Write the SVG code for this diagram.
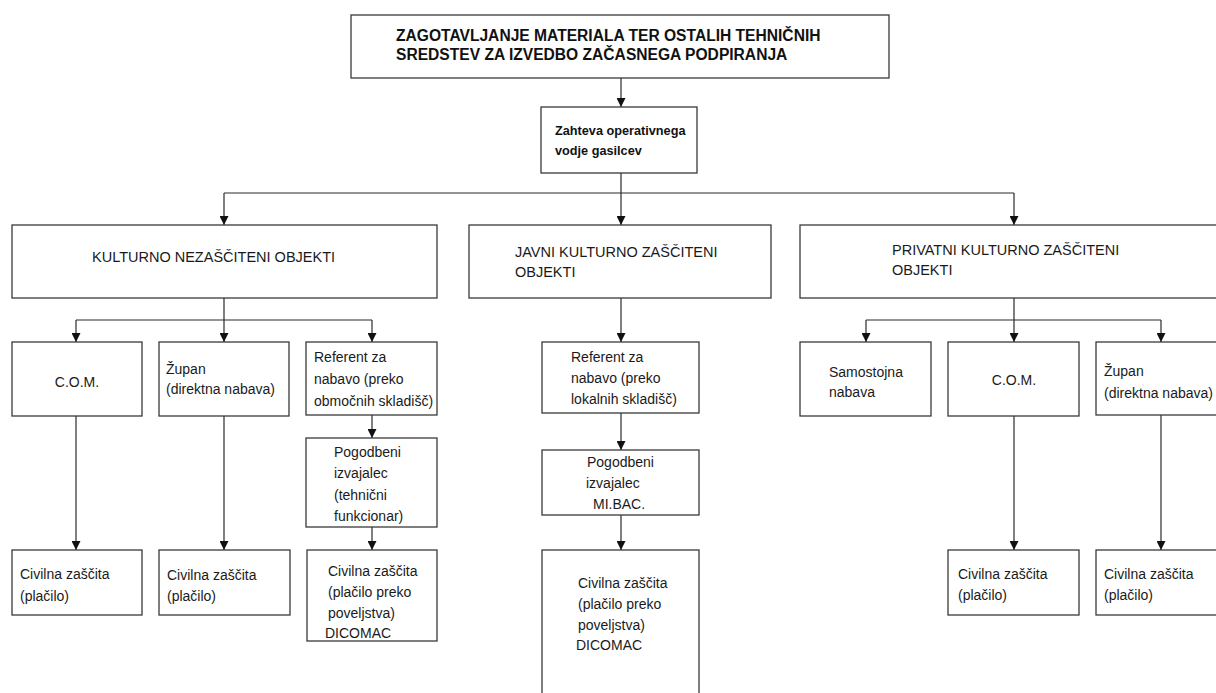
<svg xmlns="http://www.w3.org/2000/svg" width="1216" height="693" viewBox="0 0 1216 693">
  <style>
    .box { fill: #ffffff; stroke: #3a3a3a; stroke-width: 1.3; }
    .wire { fill: none; stroke: #2a2a2a; stroke-width: 1.2; }
    .t { font-family: "Liberation Sans", Arial, sans-serif; font-size: 14px; fill: #1a1a1a; }
    .cap { font-size: 14.5px; }
    .b { font-family: "Liberation Sans", Arial, sans-serif; font-weight: bold; fill: #111111; }
  </style>
  <defs>
    <marker id="arrow" viewBox="0 0 10 10" refX="10" refY="5" markerWidth="9" markerHeight="9" markerUnits="userSpaceOnUse" orient="auto">
      <path d="M0,0 L10,5 L0,10 Z" fill="#111111"/>
    </marker>
  </defs>
  <rect width="1216" height="693" fill="#ffffff"/>

  <!-- connectors -->
  <g id="connectors" class="wire">
    <path d="M621,78 V107" marker-end="url(#arrow)"/>
    <path d="M621,173 V193 M224,193 H1014"/>
    <path d="M224,193 V225" marker-end="url(#arrow)"/>
    <path d="M621,193 V225" marker-end="url(#arrow)"/>
    <path d="M1014,193 V225" marker-end="url(#arrow)"/>
    <!-- left branch -->
    <path d="M224,298 V320 M76,320 H372"/>
    <path d="M76,320 V342" marker-end="url(#arrow)"/>
    <path d="M224,320 V342" marker-end="url(#arrow)"/>
    <path d="M372,320 V342" marker-end="url(#arrow)"/>
    <path d="M76,416 V550" marker-end="url(#arrow)"/>
    <path d="M224,416 V550" marker-end="url(#arrow)"/>
    <path d="M372,415 V438" marker-end="url(#arrow)"/>
    <path d="M372,527 V550" marker-end="url(#arrow)"/>
    <!-- middle branch -->
    <path d="M621,298 V342" marker-end="url(#arrow)"/>
    <path d="M621,413 V450" marker-end="url(#arrow)"/>
    <path d="M621,515 V550" marker-end="url(#arrow)"/>
    <!-- right branch -->
    <path d="M1014,298 V320 M866,320 H1161"/>
    <path d="M866,320 V342" marker-end="url(#arrow)"/>
    <path d="M1014,320 V342" marker-end="url(#arrow)"/>
    <path d="M1161,320 V342" marker-end="url(#arrow)"/>
    <path d="M1014,416 V550" marker-end="url(#arrow)"/>
    <path d="M1161,415 V550" marker-end="url(#arrow)"/>
  </g>

  <!-- top level -->
  <g id="n-title">
    <rect class="box" x="351" y="15" width="538" height="63"/>
    <text class="b" font-size="15.6" x="396" y="41">ZAGOTAVLJANJE MATERIALA TER OSTALIH TEHNIČNIH</text>
    <text class="b" font-size="15.6" x="396" y="60">SREDSTEV ZA IZVEDBO ZAČASNEGA PODPIRANJA</text>
  </g>
  <g id="n-zahteva">
    <rect class="box" x="541" y="107" width="156" height="66"/>
    <text class="b" font-size="12.7" x="555" y="135">Zahteva operativnega</text>
    <text class="b" font-size="12.7" x="555" y="155">vodje gasilcev</text>
  </g>

  <!-- categories -->
  <g id="n-nezasciteni">
    <rect class="box" x="12" y="225" width="425" height="73"/>
    <text class="t cap" x="92" y="262">KULTURNO NEZAŠČITENI OBJEKTI</text>
  </g>
  <g id="n-javni">
    <rect class="box" x="469" y="225" width="302" height="73"/>
    <text class="t cap" x="515" y="257">JAVNI KULTURNO ZAŠČITENI</text>
    <text class="t cap" x="515" y="277">OBJEKTI</text>
  </g>
  <g id="n-privatni">
    <rect class="box" x="800" y="225" width="420" height="73"/>
    <text class="t cap" x="892" y="255">PRIVATNI KULTURNO ZAŠČITENI</text>
    <text class="t cap" x="892" y="275">OBJEKTI</text>
  </g>

  <!-- left column -->
  <g id="n-com-1">
    <rect class="box" x="12" y="342" width="130" height="74"/>
    <text class="t" x="77" y="387" text-anchor="middle">C.O.M.</text>
  </g>
  <g id="n-zupan-1">
    <rect class="box" x="159" y="342" width="130" height="74"/>
    <text class="t" x="166" y="374">Župan</text>
    <text class="t" x="166" y="394">(direktna nabava)</text>
  </g>
  <g id="n-referent-1">
    <rect class="box" x="306" y="342" width="131" height="73"/>
    <text class="t" x="314" y="362">Referent za</text>
    <text class="t" x="314" y="384">nabavo (preko</text>
    <text class="t" x="314" y="406">območnih skladišč)</text>
  </g>
  <g id="n-pogodbeni-1">
    <rect class="box" x="306" y="438" width="131" height="89"/>
    <text class="t" x="334" y="457">Pogodbeni</text>
    <text class="t" x="334" y="478">izvajalec</text>
    <text class="t" x="334" y="500">(tehnični</text>
    <text class="t" x="334" y="521">funkcionar)</text>
  </g>
  <g id="n-civilna-1">
    <rect class="box" x="12" y="550" width="130" height="65"/>
    <text class="t" x="20" y="579">Civilna zaščita</text>
    <text class="t" x="20" y="601">(plačilo)</text>
  </g>
  <g id="n-civilna-2">
    <rect class="box" x="159" y="550" width="131" height="65"/>
    <text class="t" x="167" y="580">Civilna zaščita</text>
    <text class="t" x="167" y="601">(plačilo)</text>
  </g>
  <g id="n-civilna-3">
    <rect class="box" x="307" y="550" width="130" height="91"/>
    <text class="t" x="328" y="576">Civilna zaščita</text>
    <text class="t" x="328" y="597">(plačilo preko</text>
    <text class="t" x="328" y="618">poveljstva)</text>
    <text class="t" x="325" y="638">DICOMAC</text>
  </g>

  <!-- middle column -->
  <g id="n-referent-2">
    <rect class="box" x="542" y="342" width="157" height="71"/>
    <text class="t" x="571" y="362">Referent za</text>
    <text class="t" x="571" y="383">nabavo (preko</text>
    <text class="t" x="571" y="404">lokalnih skladišč)</text>
  </g>
  <g id="n-pogodbeni-2">
    <rect class="box" x="542" y="450" width="157" height="65"/>
    <text class="t" x="587" y="467">Pogodbeni</text>
    <text class="t" x="586" y="488">izvajalec</text>
    <text class="t" x="593" y="509">MI.BAC.</text>
  </g>
  <g id="n-civilna-4">
    <rect class="box" x="542" y="550" width="157" height="150"/>
    <text class="t" x="578" y="588">Civilna zaščita</text>
    <text class="t" x="578" y="609">(plačilo preko</text>
    <text class="t" x="578" y="630">poveljstva)</text>
    <text class="t" x="576" y="650">DICOMAC</text>
  </g>

  <!-- right column -->
  <g id="n-samostojna">
    <rect class="box" x="800" y="342" width="131" height="74"/>
    <text class="t" x="829" y="377">Samostojna</text>
    <text class="t" x="829" y="397">nabava</text>
  </g>
  <g id="n-com-2">
    <rect class="box" x="948" y="342" width="131" height="74"/>
    <text class="t" x="1014" y="385" text-anchor="middle">C.O.M.</text>
  </g>
  <g id="n-zupan-2">
    <rect class="box" x="1096" y="342" width="124" height="73"/>
    <text class="t" x="1104" y="376">Župan</text>
    <text class="t" x="1104" y="398">(direktna nabava)</text>
  </g>
  <g id="n-civilna-5">
    <rect class="box" x="948" y="550" width="131" height="65"/>
    <text class="t" x="958" y="579">Civilna zaščita</text>
    <text class="t" x="958" y="600">(plačilo)</text>
  </g>
  <g id="n-civilna-6">
    <rect class="box" x="1096" y="550" width="124" height="65"/>
    <text class="t" x="1104" y="579">Civilna zaščita</text>
    <text class="t" x="1104" y="600">(plačilo)</text>
  </g>
</svg>
